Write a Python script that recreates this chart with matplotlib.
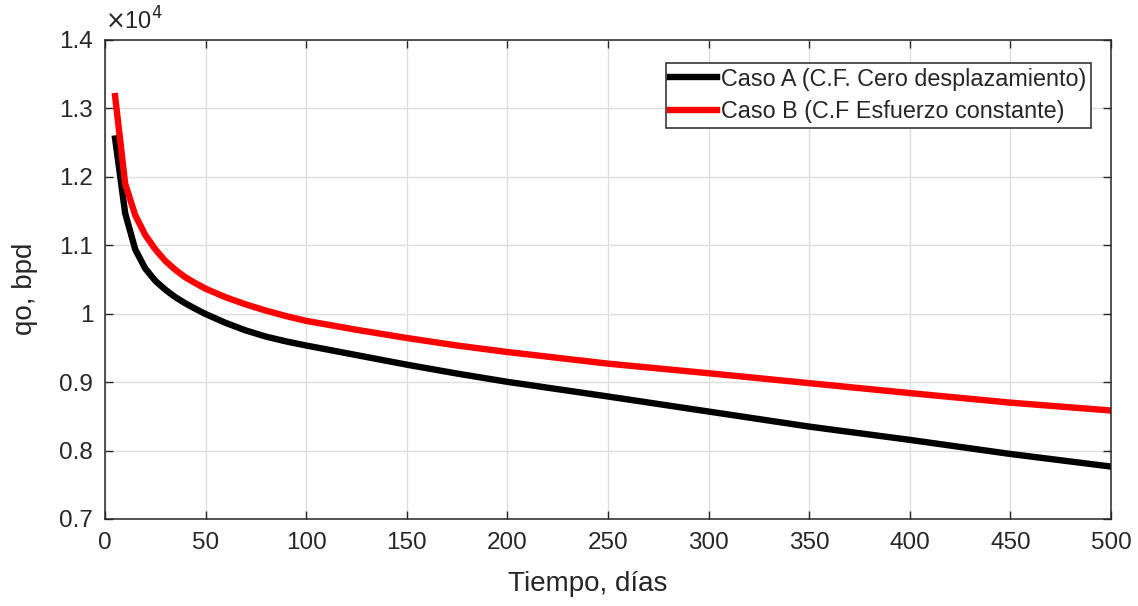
import matplotlib.pyplot as plt
from matplotlib.ticker import FuncFormatter, MultipleLocator

plt.rcParams['font.family'] = ['Liberation Sans', 'DejaVu Sans']

# tiempo en dias y caudal de petroleo (bpd) para cada caso
dias = [5, 10, 15, 20, 25, 30, 35, 40, 45, 50, 60, 70, 80, 90, 100, 125, 150, 175, 200,
        250, 300, 350, 400, 450, 500]
qo_caso_a = [12560, 11470, 10940, 10660, 10480, 10350, 10240, 10150, 10070, 9995,
             9865, 9755, 9665, 9595, 9535, 9395, 9255, 9125, 9004,
             8790, 8570, 8350, 8156, 7950, 7766]
qo_caso_b = [13180, 11900, 11440, 11150, 10940, 10770, 10640, 10530, 10445, 10365,
             10240, 10135, 10045, 9965, 9895, 9765, 9645, 9535, 9440,
             9270, 9130, 8985, 8840, 8700, 8585]

etiqueta_a = "Caso A (C.F. Cero desplazamiento)"
etiqueta_b = "Caso B (C.F Esfuerzo constante)"

gris = "#262626"

fig = plt.figure(figsize=(11.38, 6.06), dpi=100)
ax = fig.add_axes([0.0923, 0.1436, 0.884, 0.7904])

ax.plot(dias, qo_caso_a, color="black", linewidth=4.6, label=etiqueta_a)
ax.plot(dias, qo_caso_b, color="red", linewidth=4.6, label=etiqueta_b)

ax.set_xlim(0, 500)
ax.set_ylim(7000, 14000)
ax.xaxis.set_major_locator(MultipleLocator(50))
ax.yaxis.set_major_locator(MultipleLocator(1000))
ax.yaxis.set_major_formatter(FuncFormatter(lambda v, p: "%g" % round(v / 1e4, 2)))

ax.grid(True, color="#dedede", linewidth=1.0)
ax.set_axisbelow(True)
ax.tick_params(direction="in", top=True, right=True, length=6, width=1,
               colors=gris, labelsize=17.5)
ax.tick_params(axis="x", pad=9.5)
ax.tick_params(axis="y", pad=8.5)
for lado in ax.spines.values():
    lado.set_color(gris)
    lado.set_linewidth(1.1)

ax.text(0.0, 1.012, r"$\times$10$^{4}$", transform=ax.transAxes, fontsize=17,
        color=gris, ha="left", va="bottom")

ax.set_xlabel("Tiempo, días", fontsize=20, color=gris)
ax.set_ylabel("qo, bpd", fontsize=20, color=gris)
ax.xaxis.set_label_coords(0.48, -0.108)
ax.yaxis.set_label_coords(-0.067, 0.48)

ley = ax.legend(loc="upper right", bbox_to_anchor=(0.980, 0.952), borderaxespad=0,
                fancybox=False, framealpha=1, edgecolor=gris, fontsize=16.8,
                handlelength=2.0, handletextpad=0.17, borderpad=0.2, labelspacing=0.42)
ley.get_frame().set_linewidth(1.1)
for t in ley.get_texts():
    t.set_color(gris)

fig.savefig("out.png", dpi=100)
